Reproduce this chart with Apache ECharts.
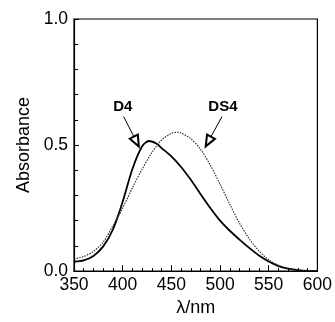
<!DOCTYPE html>
<html>
<head>
<meta charset="utf-8">
<script src="https://cdn.jsdelivr.net/npm/echarts@6/dist/echarts.min.js"></script>
<style>html,body{margin:0;padding:0;background:#fff}#c{width:335px;height:322px}</style>
</head>
<body>
<div id="c"></div>
<script>
const d4Wavelength = [350,360,370,380,390,400,410,420,427,435,440,450,460,470,480,490,500,510,520,530,540,550,560,570,580,590,600];
const d4Absorbance = [0.038,0.043,0.060,0.098,0.165,0.275,0.405,0.495,0.516,0.505,0.488,0.455,0.413,0.362,0.305,0.250,0.200,0.160,0.125,0.092,0.062,0.038,0.020,0.010,0.004,0.001,0.0];
const ds4Wavelength = [350,360,370,380,390,400,410,420,430,440,450,456,460,470,480,490,500,510,520,530,540,550,560,570,580,590,600];
const ds4Absorbance = [0.048,0.058,0.078,0.115,0.180,0.250,0.330,0.405,0.470,0.520,0.546,0.551,0.548,0.525,0.483,0.420,0.345,0.265,0.190,0.128,0.080,0.045,0.023,0.010,0.004,0.001,0.0];
const xTicks = [350,400,450,500,550,600];
const yTicks = [0.0,0.5,1.0];
const seriesNames = ['D4','DS4'];
// annotation anchors (data coordinates): label/arrow start, arrow tip
const d4Arrow = [[401,0.613],[414,0.514]];
const ds4Arrow = [[502,0.613],[488,0.514]];

const font = 'Liberation Sans, Arial, sans-serif';
const chart = echarts.init(document.getElementById('c'));
function arrowLine(pts, label){
  return {
    silent: true,
    symbol: ['none','emptyTriangle'],
    symbolSize: [9, 11],
    lineStyle: {color:'#000', width:1, type:'solid'},
    label: {show:true, position:'start', formatter: label, color:'#000', fontFamily: font, fontWeight:'bold', fontSize:15, distance:2},
    data: [[{coord: pts[0]}, {coord: pts[1]}]]
  };
}
chart.setOption({
  animation: false,
  grid: {left:74, right:14.5, top:19, bottom:49, show:true, borderColor:'#000', borderWidth:1.2},
  xAxis: {
    type:'value', min:xTicks[0], max:xTicks[xTicks.length-1], interval:50,
    name:'λ/nm', nameLocation:'middle', nameGap:27,
    nameTextStyle:{fontFamily:font, fontSize:18, color:'#000'},
    axisLine:{show:true, lineStyle:{color:'#000', width:1.2}},
    axisTick:{show:true, inside:true, length:6, lineStyle:{color:'#000'}},
    minorTick:{show:true, splitNumber:5, length:3, lineStyle:{color:'#000'}},
    splitLine:{show:false},
    axisLabel:{fontFamily:font, fontSize:17.5, color:'#000', margin:5}
  },
  yAxis: {
    type:'value', min:yTicks[0], max:yTicks[yTicks.length-1], interval:0.5,
    name:'Absorbance', nameLocation:'middle', nameGap:41,
    nameTextStyle:{fontFamily:font, fontSize:18, color:'#000'},
    axisLine:{show:true, lineStyle:{color:'#000', width:1.2}},
    axisTick:{show:true, inside:true, length:5, lineStyle:{color:'#000'}},
    minorTick:{show:true, splitNumber:5, length:4, lineStyle:{color:'#000'}},
    splitLine:{show:false},
    axisLabel:{fontFamily:font, fontSize:17.5, color:'#000', margin:6, formatter: v => v.toFixed(1)}
  },
  series: [
    {
      name: seriesNames[0], type:'line', smooth:0.3, showSymbol:false,
      lineStyle:{color:'#000', width:1.8},
      data: d4Wavelength.map((x,i)=>[x, d4Absorbance[i]]),
      markLine: arrowLine(d4Arrow, seriesNames[0])
    },
    {
      name: seriesNames[1], type:'line', smooth:0.3, showSymbol:false,
      lineStyle:{color:'#222', width:1.1, type:[1.5,1.2]},
      data: ds4Wavelength.map((x,i)=>[x, ds4Absorbance[i]]),
      markLine: arrowLine(ds4Arrow, seriesNames[1])
    }
  ]
});
</script>
</body>
</html>
